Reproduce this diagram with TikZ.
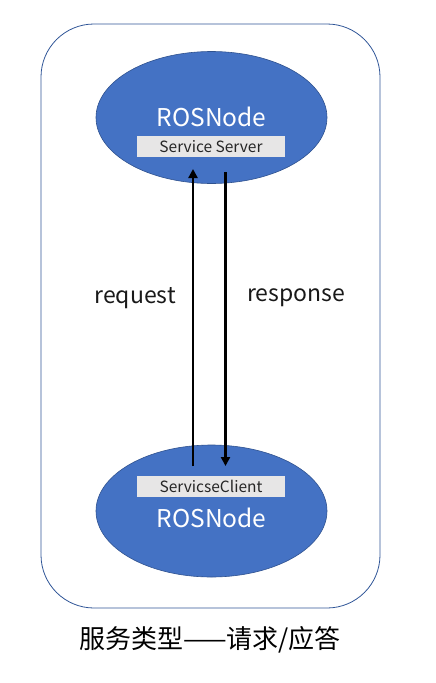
\documentclass[tikz,border=0pt]{standalone}
\usepackage{fontspec}
\setmainfont{Noto Sans CJK SC}
\usetikzlibrary{arrows.meta,shapes.geometric}
\definecolor{nodeblue}{HTML}{4472C4}
\definecolor{edgeblue}{HTML}{2F528F}
\definecolor{framecol}{HTML}{2F5597}
\definecolor{boxgray}{HTML}{E7E6E6}
\tikzset{
  rosnode/.style={ellipse, fill=nodeblue, draw=edgeblue, line width=0.6pt, minimum width=231pt, minimum height=132pt, inner sep=0pt},
  rostext/.style={text=white, font=\fontsize{24.5}{24.5}\selectfont, inner sep=0pt},
  svcbox/.style={fill=boxgray, minimum width=148pt, minimum height=21pt, inner sep=0pt, font=\fontsize{15.5}{15.5}\selectfont, text=black!85},
  flow/.style={line width=2.8pt, -{Triangle[length=9pt,width=9pt]}},
  lbl/.style={font=\fontsize{23}{23}\selectfont, inner sep=0pt, text=black!90}
}
\begin{document}
\begin{tikzpicture}[x=1pt,y=-1pt]
\useasboundingbox (0,0) rectangle (436,683);
\node[draw=framecol, line width=0.8pt, rounded corners=53pt, minimum width=339pt, minimum height=584pt, inner sep=0pt] (frame) at (210.5,316) {};
\node[rosnode] (top) at (211.5,117.5) {};
\node[rosnode] (bot) at (211.5,511) {};
\node[rostext] (toplabel) at (211.5,117) {ROSNode};
\node[svcbox] (server) at (211,146.5) {Service Server};
\node[svcbox] (client) at (211,486.5) {ServicseClient};
\node[rostext] (botlabel) at (211.5,518) {ROSNode};
\coordinate (reqstart) at (193,466);
\coordinate (reqend) at (193,169);
\coordinate (resstart) at (225.5,172);
\coordinate (resend) at (225.5,466);
\draw[flow] (reqstart) -- (reqend);
\draw[flow] (resstart) -- (resend);
\node[lbl] (req) at (135,298) {request};
\node[lbl] (res) at (296,298) {response};
\node[font=\fontsize{26}{26}\selectfont, inner sep=0pt] (caption) at (210,640) {服务类型——请求/应答};
\end{tikzpicture}
\end{document}
